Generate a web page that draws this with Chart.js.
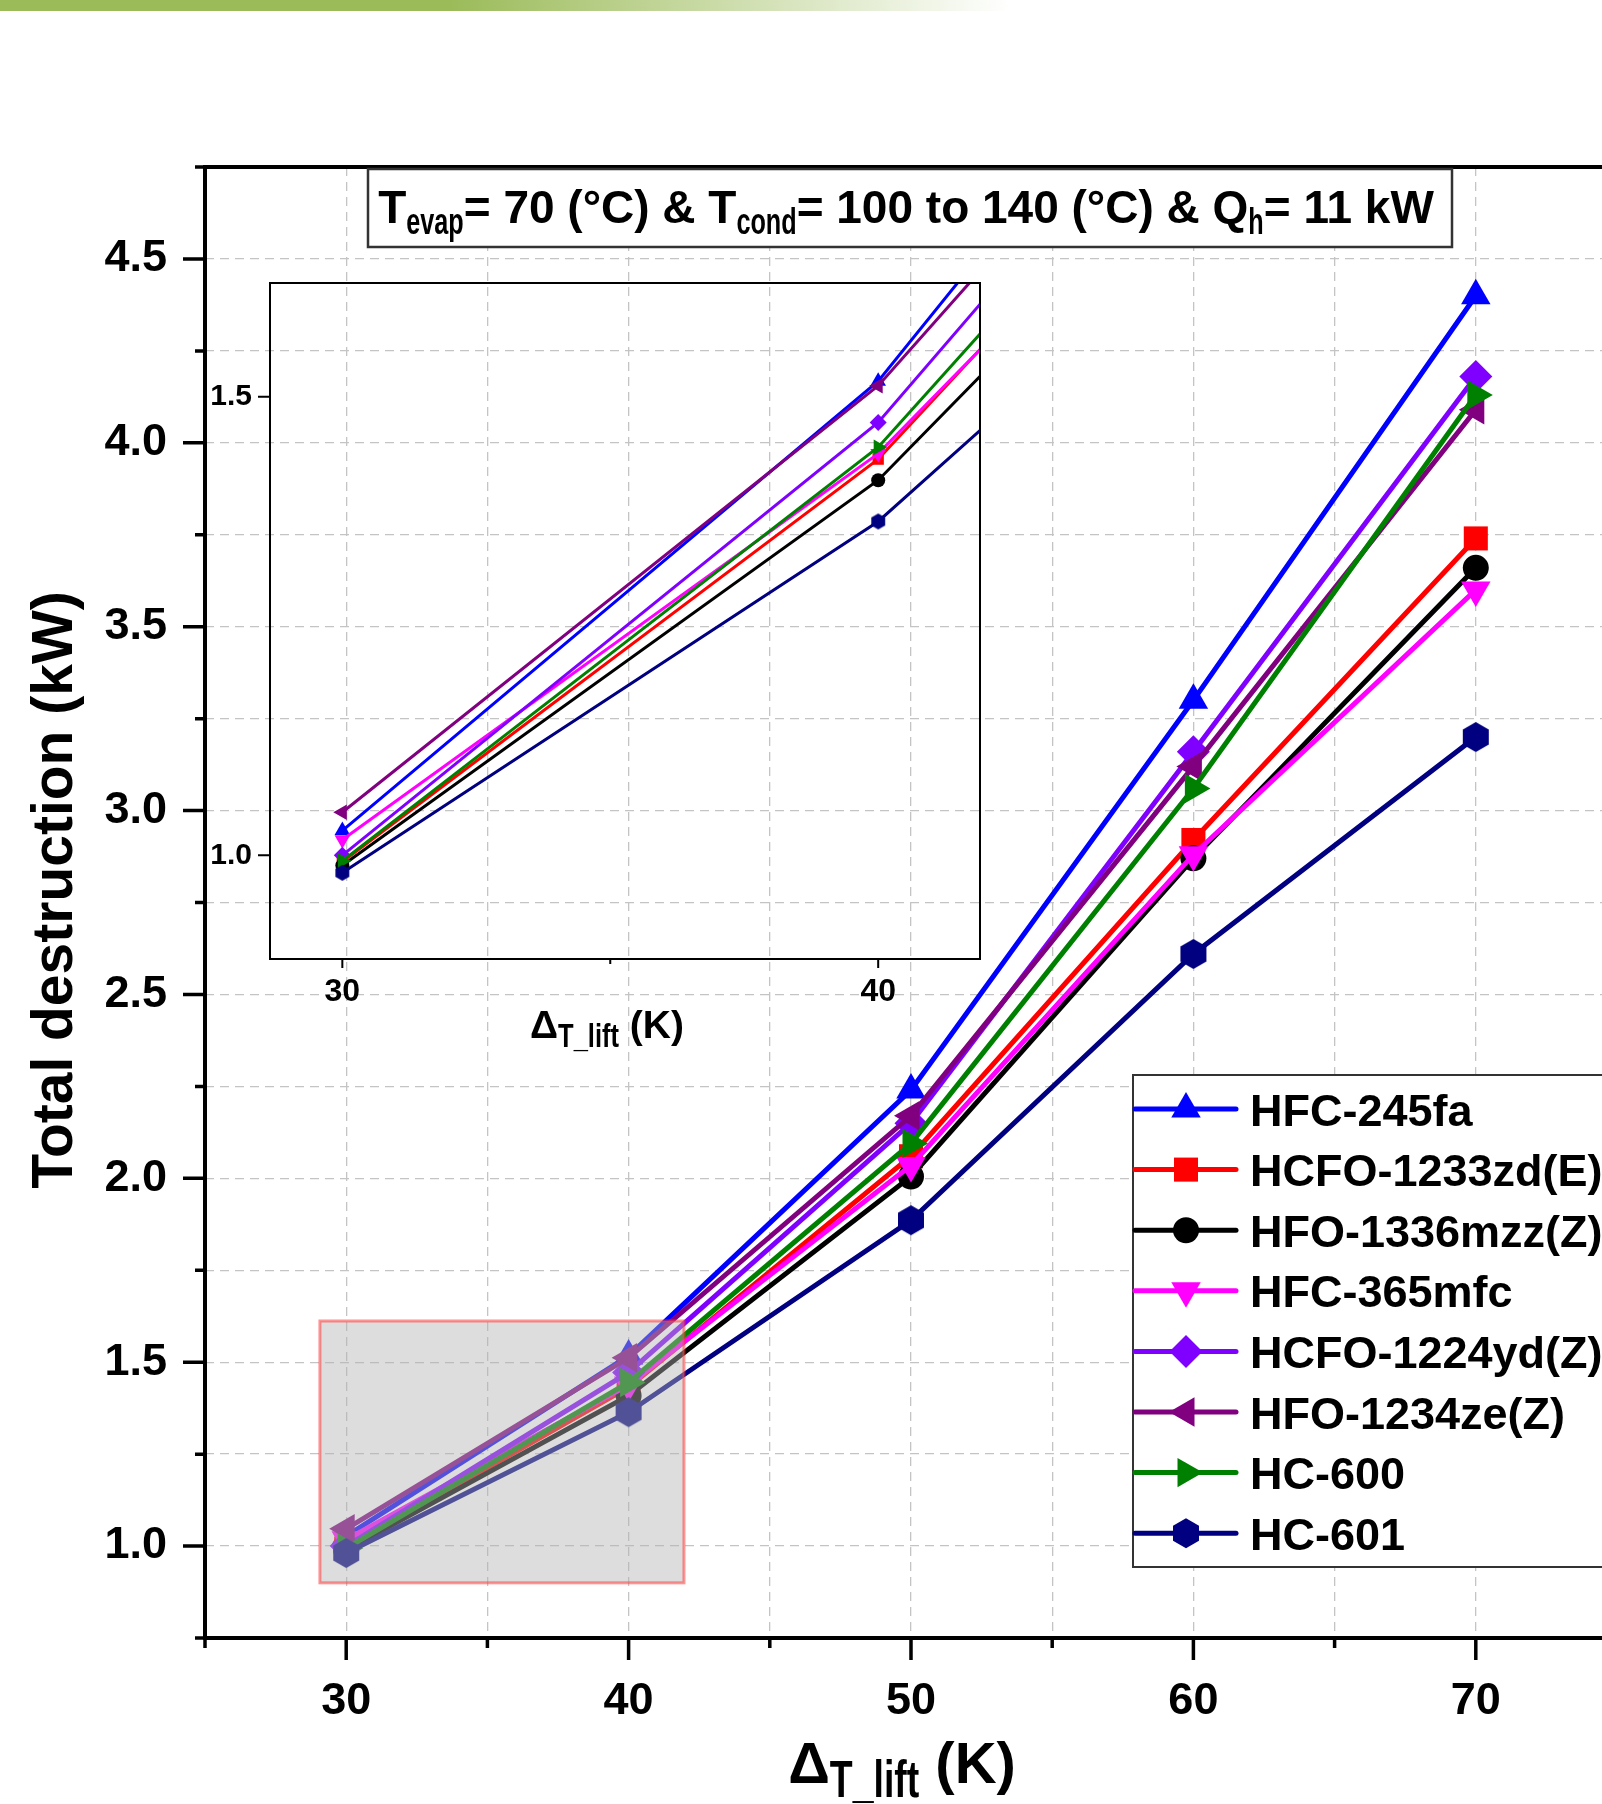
<!DOCTYPE html>
<html lang="en">
<head>
    <meta charset="UTF-8">
    <title>Total destruction vs temperature lift</title>
    <script src="https://cdn.jsdelivr.net/npm/chart.js"></script>
    <style>
        html, body {
            margin: 0;
            padding: 0;
            background: #fff;
            overflow: hidden;
        }
        #page {
            position: relative;
            width: 1602px;
            height: 1804px;
            overflow: hidden;
        }
        #topbar {
            position: absolute;
            left: 0;
            top: 0;
            width: 1010px;
            height: 11px;
            background: linear-gradient(to right, #9bbb59 0px, #9bbb59 450px, rgba(155, 187, 89, 0) 1010px);
        }
        #main-chart, #inset-chart {
            position: absolute;
        }
        #main-chart { left: 0; top: 0; }
        #inset-chart { left: 170px; top: 247px; }
    </style>
</head>
<body>
<div id="page">
    <div id="topbar"></div>
    <canvas id="main-chart" width="1660" height="1804"></canvas>
    <canvas id="inset-chart" width="840" height="823"></canvas>
</div>
<script>
    // temperature lift (K)
    var lift = [30, 40, 50, 60, 70];

    // total exergy destruction (kW)
    var hfc245fa   = [1.027, 1.517, 2.24, 3.30, 4.40];
    var hcfo1233zd = [0.993, 1.432, 2.06, 2.92, 3.74];
    var hfo1336mzz = [0.989, 1.409, 2.005, 2.87, 3.66];
    var hfc365mfc  = [1.017, 1.438, 2.035, 2.88, 3.60];
    var hcfo1224yd = [1.000, 1.472, 2.15, 3.16, 4.18];
    var hfo1234ze  = [1.047, 1.512, 2.17, 3.12, 4.09];
    var hc600      = [0.994, 1.445, 2.095, 3.06, 4.13];
    var hc601      = [0.981, 1.364, 1.886, 2.61, 3.20];

    var seriesNames = ['HFC-245fa', 'HCFO-1233zd(E)', 'HFO-1336mzz(Z)', 'HFC-365mfc',
                       'HCFO-1224yd(Z)', 'HFO-1234ze(Z)', 'HC-600', 'HC-601'];
    var seriesValues = [hfc245fa, hcfo1233zd, hfo1336mzz, hfc365mfc, hcfo1224yd, hfo1234ze, hc600, hc601];

    // tick labels
    var xTickLabels = [30, 40, 50, 60, 70];
    var yTickLabels = [1.0, 1.5, 2.0, 2.5, 3.0, 3.5, 4.0, 4.5];
    var insetXTickLabels = [30, 40];
    var insetYTickLabels = [1.0, 1.5];

    // zoomed region shown in the inset (axis units)
    var zoomX = [29.07, 41.96];
    var zoomY = [0.90, 1.612];

    var seriesStyles = [
        { color: '#0000ff', shape: 'triangle', rot: 0 },
        { color: '#ff0000', shape: 'rect', rot: 0 },
        { color: '#000000', shape: 'circle', rot: 0 },
        { color: '#ff00ff', shape: 'triangle', rot: 180 },
        { color: '#8000ff', shape: 'rectRot', rot: 0 },
        { color: '#800080', shape: 'triangle', rot: 270 },
        { color: '#008000', shape: 'triangle', rot: 90 },
        { color: '#000080', shape: 'hexagon', rot: 0 }
    ];
    var mainSizes = { triangle: 17, rect: 17, circle: 13, rectRot: 16.5, hexagon: 15 };
    var insetSizes = { triangle: 9, rect: 8, circle: 7, rectRot: 8.5, hexagon: 8 };

    var FONT = '"Liberation Sans", Arial, sans-serif';
    Chart.defaults.font.family = FONT;
    Chart.defaults.color = '#000';

    function hexagonImage(r, color) {
        var c = document.createElement('canvas');
        var s = Math.ceil(r * 2) + 2;
        c.width = s;
        c.height = s;
        var g = c.getContext('2d');
        g.fillStyle = color;
        g.beginPath();
        for (var k = 0; k < 6; k++) {
            var a = Math.PI / 2 + k * Math.PI / 3;
            var px = s / 2 + r * Math.cos(a), py = s / 2 - r * Math.sin(a);
            if (k === 0) g.moveTo(px, py); else g.lineTo(px, py);
        }
        g.closePath();
        g.fill();
        return c;
    }

    function drawMarker(ctx, shape, rot, r, x, y, color) {
        ctx.save();
        ctx.translate(x, y);
        ctx.rotate(rot * Math.PI / 180);
        ctx.fillStyle = color;
        ctx.beginPath();
        if (shape === 'circle') {
            ctx.arc(0, 0, r, 0, 2 * Math.PI);
        } else if (shape === 'rect') {
            var h = r * Math.SQRT1_2;
            ctx.rect(-h, -h, 2 * h, 2 * h);
        } else if (shape === 'rectRot') {
            ctx.moveTo(0, -r); ctx.lineTo(r, 0); ctx.lineTo(0, r); ctx.lineTo(-r, 0);
        } else if (shape === 'triangle') {
            for (var k = 0; k < 3; k++) {
                var a = k * 2 * Math.PI / 3;
                if (k === 0) ctx.moveTo(r * Math.sin(a), -r * Math.cos(a));
                else ctx.lineTo(r * Math.sin(a), -r * Math.cos(a));
            }
        } else if (shape === 'hexagon') {
            for (var j = 0; j < 6; j++) {
                var b = Math.PI / 2 + j * Math.PI / 3;
                if (j === 0) ctx.moveTo(r * Math.cos(b), -r * Math.sin(b));
                else ctx.lineTo(r * Math.cos(b), -r * Math.sin(b));
            }
        }
        ctx.closePath();
        ctx.fill();
        ctx.restore();
    }

    // text with subscripts: parts = [{t, sub}]
    function drawRichText(ctx, parts, cx, baseline, mainFont, subFont, subScale, subDrop) {
        var total = 0;
        parts.forEach(function(p) {
            ctx.font = p.sub ? subFont : mainFont;
            p.w = ctx.measureText(p.t).width * (p.sub ? subScale : 1);
            total += p.w;
        });
        var x = cx - total / 2;
        parts.forEach(function(p) {
            ctx.save();
            ctx.font = p.sub ? subFont : mainFont;
            ctx.fillStyle = '#000';
            ctx.textAlign = 'left';
            ctx.textBaseline = 'alphabetic';
            ctx.translate(x, baseline + (p.sub ? subDrop : 0));
            if (p.sub) ctx.scale(subScale, 1);
            ctx.fillText(p.t, 0, 0);
            ctx.restore();
            x += p.w;
        });
    }

    function isIn(list, v) {
        return list.some(function(t) { return Math.abs(t - v) < 1e-6; });
    }

    function buildDatasets(sizes, lineWidth) {
        return seriesNames.map(function(name, i) {
            var st = seriesStyles[i];
            var r = sizes[st.shape];
            return {
                label: name,
                data: lift.map(function(x, j) { return { x: x, y: seriesValues[i][j] }; }),
                borderColor: st.color,
                backgroundColor: st.color,
                borderWidth: lineWidth,
                pointStyle: st.shape === 'hexagon' ? hexagonImage(r, st.color) : st.shape,
                pointRotation: st.rot,
                pointRadius: r,
                pointBorderWidth: 0,
                pointBackgroundColor: st.color,
                tension: 0,
                order: seriesNames.length - i
            };
        });
    }

    // ---------- main chart ----------
    var mainDecor = {
        id: 'mainDecor',
        afterDatasetsDraw: function(chart) {
            var ctx = chart.ctx, xs = chart.scales.x, ys = chart.scales.y;
            var x0 = xs.getPixelForValue(zoomX[0]), x1 = xs.getPixelForValue(zoomX[1]);
            var y0 = ys.getPixelForValue(zoomY[1]), y1 = ys.getPixelForValue(zoomY[0]);
            ctx.save();
            ctx.fillStyle = 'rgba(180, 180, 180, 0.45)';
            ctx.fillRect(x0, y0, x1 - x0, y1 - y0);
            ctx.strokeStyle = 'rgba(255, 60, 60, 0.55)';
            ctx.lineWidth = 3;
            ctx.strokeRect(x0, y0, x1 - x0, y1 - y0);
            ctx.restore();
        },
        afterDraw: function(chart) {
            var ctx = chart.ctx, a = chart.chartArea;
            var xs = chart.scales.x, ys = chart.scales.y;
            ctx.save();

            // frame
            ctx.strokeStyle = '#000';
            ctx.lineWidth = 4;
            ctx.strokeRect(a.left, a.top, a.right - a.left, a.bottom - a.top);

            // ticks
            ctx.lineWidth = 3.5;
            ctx.beginPath();
            xs.ticks.forEach(function(t) {
                var px = xs.getPixelForValue(t.value);
                var len = isIn(xTickLabels, t.value) ? 22 : 10;
                ctx.moveTo(px, a.bottom);
                ctx.lineTo(px, a.bottom + len);
            });
            ys.ticks.forEach(function(t) {
                var py = ys.getPixelForValue(t.value);
                var len = isIn(yTickLabels, t.value) ? 22 : 10;
                ctx.moveTo(a.left, py);
                ctx.lineTo(a.left - len, py);
            });
            ctx.stroke();

            // condition box
            ctx.fillStyle = '#fff';
            ctx.fillRect(368, 169, 1084, 78);
            ctx.strokeStyle = '#333';
            ctx.lineWidth = 2.5;
            ctx.strokeRect(368, 169, 1084, 78);
            drawRichText(ctx, [
                { t: 'T' }, { t: 'evap', sub: true }, { t: '= 70 (\u00B0C) & T' },
                { t: 'cond', sub: true }, { t: '= 100 to 140 (\u00B0C) & Q' },
                { t: 'h', sub: true }, { t: '= 11 kW' }
            ], 906, 223, 'bold 46px ' + FONT, 'bold 36px ' + FONT, 0.7, 11);

            // axis titles
            drawRichText(ctx, [{ t: '\u0394' }, { t: 'T_lift', sub: true }, { t: ' (K)' }],
                902, 1783, 'bold 58px ' + FONT, 'bold 52px ' + FONT, 0.72, 14);
            ctx.save();
            ctx.translate(72, 890);
            ctx.rotate(-Math.PI / 2);
            ctx.font = 'bold 57px ' + FONT;
            ctx.fillStyle = '#000';
            ctx.textAlign = 'center';
            ctx.textBaseline = 'alphabetic';
            ctx.fillText('Total destruction (kW)', 0, 0);
            ctx.restore();

            // legend
            var lx = 1133, ly = 1075;
            ctx.fillStyle = '#fff';
            ctx.fillRect(lx, ly, 600, 492);
            ctx.strokeStyle = '#333';
            ctx.lineWidth = 2;
            ctx.strokeRect(lx, ly, 600, 492);
            seriesNames.forEach(function(name, i) {
                var st = seriesStyles[i];
                var y = 1109 + i * 60.6;
                ctx.strokeStyle = st.color;
                ctx.lineWidth = 5;
                ctx.lineCap = 'round';
                ctx.beginPath();
                ctx.moveTo(1135, y);
                ctx.lineTo(1236, y);
                ctx.stroke();
                drawMarker(ctx, st.shape, st.rot, mainSizes[st.shape], 1186, y, st.color);
                ctx.font = 'bold 45px ' + FONT;
                ctx.fillStyle = '#000';
                ctx.textAlign = 'left';
                ctx.textBaseline = 'alphabetic';
                ctx.fillText(name, 1250, y + 16.5);
            });
            ctx.restore();
        }
    };

    var mainChart = new Chart(document.getElementById('main-chart').getContext('2d'), {
        type: 'line',
        data: { datasets: buildDatasets(mainSizes, 5) },
        options: {
            responsive: false,
            animation: false,
            layout: { padding: { left: 0, top: 167, right: 43, bottom: 0 } },
            plugins: { legend: { display: false }, tooltip: { enabled: false } },
            scales: {
                x: {
                    type: 'linear',
                    min: 25,
                    max: 75,
                    afterFit: function(s) { s.height = 166; },
                    border: { display: false, dash: [9, 6] },
                    grid: { color: '#c4c4c4', lineWidth: 1.3, drawTicks: false },
                    ticks: {
                        stepSize: 5,
                        autoSkip: false,
                        maxRotation: 0,
                        padding: 37,
                        font: { size: 45, weight: 'bold' },
                        callback: function(v) { return isIn(xTickLabels, v) ? String(v) : ''; }
                    }
                },
                y: {
                    type: 'linear',
                    min: 0.75,
                    max: 4.75,
                    afterFit: function(s) { s.width = 205; },
                    border: { display: false, dash: [9, 6] },
                    grid: { color: '#c4c4c4', lineWidth: 1.3, drawTicks: false },
                    ticks: {
                        stepSize: 0.25,
                        autoSkip: false,
                        padding: 38,
                        font: { size: 45, weight: 'bold' },
                        callback: function(v) { return isIn(yTickLabels, v) ? v.toFixed(1) : ''; }
                    }
                }
            }
        },
        plugins: [mainDecor]
    });

    // ---------- inset chart ----------
    var insetDecor = {
        id: 'insetDecor',
        afterDraw: function(chart) {
            var ctx = chart.ctx, a = chart.chartArea;
            var xs = chart.scales.x, ys = chart.scales.y;
            ctx.save();
            ctx.strokeStyle = '#000';
            ctx.lineWidth = 2;
            ctx.strokeRect(a.left, a.top, a.right - a.left, a.bottom - a.top);
            ctx.beginPath();
            xs.ticks.forEach(function(t) {
                var px = xs.getPixelForValue(t.value);
                var len = isIn(insetXTickLabels, t.value) ? 9 : 5;
                ctx.moveTo(px, a.bottom);
                ctx.lineTo(px, a.bottom + len);
            });
            ys.ticks.forEach(function(t) {
                var py = ys.getPixelForValue(t.value);
                ctx.moveTo(a.left, py);
                ctx.lineTo(a.left - 12, py);
            });
            ctx.stroke();
            drawRichText(ctx, [{ t: '\u0394' }, { t: 'T_lift', sub: true }, { t: ' (K)' }],
                437, a.bottom + 79, 'bold 39px ' + FONT, 'bold 34px ' + FONT, 0.75, 9);
            ctx.restore();
        }
    };

    var insetChart = new Chart(document.getElementById('inset-chart').getContext('2d'), {
        type: 'line',
        data: { datasets: buildDatasets(insetSizes, 3) },
        options: {
            responsive: false,
            animation: false,
            layout: { padding: { left: 0, top: 12, right: 30, bottom: 0 } },
            plugins: { legend: { display: false }, tooltip: { enabled: false } },
            scales: {
                x: {
                    type: 'linear',
                    min: 28.65,
                    max: 41.9,
                    afterFit: function(s) { s.height = 111; },
                    afterBuildTicks: function(s) {
                        s.ticks = [30, 35, 40].map(function(v) { return { value: v }; });
                    },
                    border: { display: false },
                    grid: { display: false, drawTicks: false },
                    ticks: {
                        autoSkip: false,
                        maxRotation: 0,
                        padding: 14,
                        font: { size: 32, weight: 'bold' },
                        callback: function(v) { return isIn(insetXTickLabels, v) ? String(v) : ''; }
                    }
                },
                y: {
                    type: 'linear',
                    min: 0.887,
                    max: 1.624,
                    afterFit: function(s) { s.width = 100; },
                    afterBuildTicks: function(s) {
                        s.ticks = insetYTickLabels.map(function(v) { return { value: v }; });
                    },
                    border: { display: false },
                    grid: { display: false, drawTicks: false },
                    ticks: {
                        autoSkip: false,
                        padding: 18,
                        font: { size: 30, weight: 'bold' },
                        callback: function(v) { return v.toFixed(1); }
                    }
                }
            }
        },
        plugins: [insetDecor]
    });
</script>
</body>
</html>
